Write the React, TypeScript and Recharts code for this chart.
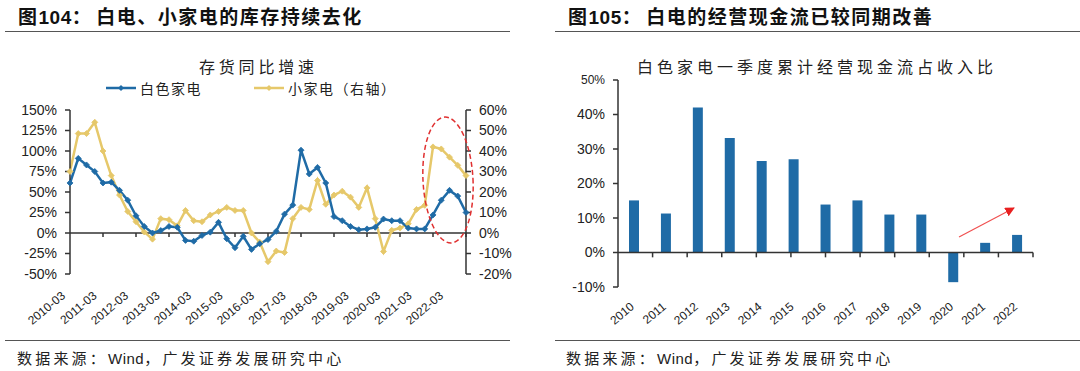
import React from 'react';
import { Bar, BarChart, Line, LineChart, ReferenceLine, XAxis, YAxis } from 'recharts';

// 季度 (2010-03 ~ 2022-03)
const QUARTERS = [
  '2010-03', '2010-06', '2010-09', '2010-12', '2011-03', '2011-06', '2011-09', '2011-12',
  '2012-03', '2012-06', '2012-09', '2012-12', '2013-03', '2013-06', '2013-09', '2013-12',
  '2014-03', '2014-06', '2014-09', '2014-12', '2015-03', '2015-06', '2015-09', '2015-12',
  '2016-03', '2016-06', '2016-09', '2016-12', '2017-03', '2017-06', '2017-09', '2017-12',
  '2018-03', '2018-06', '2018-09', '2018-12', '2019-03', '2019-06', '2019-09', '2019-12',
  '2020-03', '2020-06', '2020-09', '2020-12', '2021-03', '2021-06', '2021-09', '2021-12',
  '2022-03',
];

// 白色家电 存货同比 (%, 左轴)
const WHITE_GOODS = [
  61, 91, 83, 75, 61, 62, 52, 40, 21, 8, 0, 3, 8, 7, -9, -10, -3, 1, 13, -7, -18, -4, -20, -13,
  -8, 2, 23, 34, 101, 72, 80, 61, 20, 15, 8, 4, 5, 7, 17, 15, 15, 6, 5, 5, 22, 40, 52, 45, 25,
];

// 小家电 存货同比 (%, 右轴)
const SMALL_APPLIANCES = [
  30, 48.5, 48.5, 54, 40, 28, 18.5, 10.5, 5.5, 0.5, -3, 7, 6.5, 3.5, 11, 6, 5.5, 8.8, 10.5, 12.5,
  11, 11, 0, -4.5, -14, -8.8, -9.5, 7, 12.5, 11.5, 25.6, 14, 18.5, 20.4, 17.5, 12.5, 22, 7, -9,
  1.3, 2.4, 4.5, 11.5, 13.5, 42, 41, 37, 33, 28,
];

const LEFT_TICKS = [-50, -25, 0, 25, 50, 75, 100, 125, 150];
const RIGHT_TICKS = [-20, -10, 0, 10, 20, 30, 40, 50, 60];

// 一季度累计经营现金流占收入比
const YEARS = ['2010', '2011', '2012', '2013', '2014', '2015', '2016', '2017', '2018', '2019', '2020', '2021', '2022'];
const CASH_FLOW_RATIO = [15.1, 11.3, 42, 33.2, 26.5, 27, 13.9, 15.1, 11, 11, -8.6, 2.8, 5.1];
const BAR_TICKS = [-10, 0, 10, 20, 30, 40, 50];

const BLUE = '#1f6ba6';
const YELLOW = '#e6c86a';
const AXIS = '#333';
const LATIN = '"Liberation Sans", Arial, "Noto Sans CJK SC", sans-serif';
const CJK = '"Noto Sans CJK SC", "Liberation Sans", sans-serif';

const lineData = QUARTERS.map((q, i) => ({ q, white: WHITE_GOODS[i], small: SMALL_APPLIANCES[i] }));
const barData = YEARS.map((year, i) => ({ year, value: CASH_FLOW_RATIO[i] }));
const yearStarts = QUARTERS.filter((q, i) => i > 0 && q.endsWith('-03'));
// 柱状图类目分界 (1..13)
const barEdges = YEARS.map((_, i) => i + 1);

const pct = (v: number) => `${v}%`;

function diamondDot(color: string) {
  return (props: any) => {
    const { cx, cy, index } = props;
    if (cx == null || cy == null) return <g key={index} />;
    const r = 3;
    return (
      <path
        key={index}
        d={`M${cx},${cy - r}L${cx + r},${cy}L${cx},${cy + r}L${cx - r},${cy}Z`}
        fill={color}
        stroke={color}
        strokeWidth={0.8}
      />
    );
  };
}

function QuarterTick({ x, y, payload }: any) {
  const k = QUARTERS.indexOf(payload.value) / 4;
  const ax = x - 4 - 1.5 * k;
  const ay = y + 15;
  return (
    <text x={ax} y={ay} transform={`rotate(-40 ${ax} ${ay})`} textAnchor="end" fontSize={12} fill="#222" fontFamily={LATIN}>
      {payload.value}
    </text>
  );
}

function YearTick({ x, y, payload }: any) {
  const ax = x + 1;
  const ay = y + 13;
  return (
    <text x={ax} y={ay} transform={`rotate(-40 ${ax} ${ay})`} textAnchor="end" fontSize={12} fill="#222" fontFamily={LATIN}>
      {payload.value}
    </text>
  );
}

function BarYTick({ x, y, payload }: any) {
  return (
    <text x={x} y={y} dy="0.355em" textAnchor="end" fontSize={payload.value === 50 ? 12 : 14} fill="#222" fontFamily={LATIN}>
      {pct(payload.value)}
    </text>
  );
}

function LegendItem({ color, label }: { color: string; label: string }) {
  return (
    <span style={{ display: 'inline-flex', alignItems: 'center', gap: 4 }}>
      <svg width={30} height={8}>
        <line x1={0} y1={4} x2={30} y2={4} stroke={color} strokeWidth={2.5} />
        <path d="M15,1L18,4L15,7L12,4Z" fill={color} />
      </svg>
      <span>{label}</span>
    </span>
  );
}

function PanelTitle({ num, text, left }: { num: string; text: string; left: number }) {
  return (
    <div style={{ position: 'absolute', left, top: 2, fontFamily: CJK, fontSize: 19, fontWeight: 700, color: '#111', letterSpacing: 1.5, whiteSpace: 'nowrap' }}>
      <span>图</span>
      <span style={{ fontFamily: LATIN, letterSpacing: 0.5 }}>{num}</span>
      <span>：</span>
      <span style={{ marginLeft: 4 }}>{text}</span>
    </div>
  );
}

export default function App() {
  const rule = (left: number, width: number, top: number) => (
    <div style={{ position: 'absolute', left, top, width, height: 1, background: '#555' }} />
  );
  const source = (left: number) => (
    <div style={{ position: 'absolute', left, top: 347, fontFamily: CJK, fontSize: 15, color: '#222', letterSpacing: 3.2, whiteSpace: 'nowrap' }}>
      数据来源：<span style={{ fontFamily: LATIN, letterSpacing: 0.5 }}>Wind</span>，广发证券发展研究中心
    </div>
  );

  return (
    <div style={{ position: 'absolute', left: 0, top: 0, width: 1080, height: 371, background: '#fff', overflow: 'hidden' }}>
      <PanelTitle num="104" text="白电、小家电的库存持续去化" left={18} />
      <PanelTitle num="105" text="白电的经营现金流已较同期改善" left={568} />
      {rule(5, 505, 31)}
      {rule(555, 525, 31)}

      <div style={{ position: 'absolute', left: 199, top: 54, fontFamily: CJK, fontSize: 16, letterSpacing: 3.8, color: '#222', whiteSpace: 'nowrap' }}>
        存货同比增速
      </div>
      <div style={{ position: 'absolute', left: 106, top: 78, fontFamily: CJK, fontSize: 14, letterSpacing: 1.5, color: '#222', display: 'flex', gap: 52, whiteSpace: 'nowrap' }}>
        <LegendItem color={BLUE} label="白色家电" />
        <LegendItem color={YELLOW} label="小家电（右轴）" />
      </div>

      <div style={{ position: 'absolute', left: 637, top: 54, fontFamily: CJK, fontSize: 16, letterSpacing: 4, color: '#222', whiteSpace: 'nowrap' }}>
        白色家电一季度累计经营现金流占收入比
      </div>

      <div style={{ position: 'absolute', left: 0, top: 0 }}>
        <LineChart width={540} height={340} data={lineData} margin={{ top: 110, right: 14, bottom: 6, left: 10 }}>
          <XAxis dataKey="q" interval={3} axisLine={false} tickLine={false} height={60} tick={<QuarterTick />} />
          <YAxis
            yAxisId="left"
            domain={[-50, 150]}
            ticks={LEFT_TICKS}
            interval={0}
            tickFormatter={pct}
            width={60}
            tickSize={5}
            tickMargin={8}
            stroke={AXIS}
            strokeWidth={1.5}
            tick={{ fontSize: 14, fill: '#222', fontFamily: LATIN }}
          />
          <YAxis
            yAxisId="right"
            orientation="right"
            domain={[-20, 60]}
            ticks={RIGHT_TICKS}
            interval={0}
            tickFormatter={pct}
            width={60}
            tickSize={5}
            tickMargin={8}
            stroke={AXIS}
            strokeWidth={1.5}
            tick={{ fontSize: 14, fill: '#222', fontFamily: LATIN }}
          />
          <ReferenceLine yAxisId="left" y={0} stroke={AXIS} strokeWidth={1.5} />
          {yearStarts.map((q) => (
            <ReferenceLine
              key={q}
              yAxisId="left"
              segment={[{ x: q, y: 0 }, { x: q, y: -5 }]}
              stroke={AXIS}
              strokeWidth={1.5}
            />
          ))}
          <Line
            yAxisId="right"
            dataKey="small"
            stroke={YELLOW}
            strokeWidth={2.5}
            dot={diamondDot(YELLOW)}
            isAnimationActive={false}
          />
          <Line
            yAxisId="left"
            dataKey="white"
            stroke={BLUE}
            strokeWidth={2.5}
            dot={diamondDot(BLUE)}
            isAnimationActive={false}
          />
        </LineChart>
      </div>

      <div style={{ position: 'absolute', left: 540, top: 0 }}>
        <BarChart width={540} height={340} data={barData} margin={{ top: 80, right: 47, bottom: 8, left: 18 }}>
          <XAxis dataKey="year" axisLine={false} tickLine={false} height={45} interval={0} tick={<YearTick />} />
          <XAxis xAxisId="edge" type="number" domain={[0, YEARS.length]} hide />
          <YAxis
            domain={[-10, 50]}
            ticks={BAR_TICKS}
            interval={0}
            width={60}
            tickSize={5}
            tickMargin={8}
            stroke={AXIS}
            strokeWidth={1.5}
            tick={<BarYTick />}
          />
          <ReferenceLine y={0} stroke={AXIS} strokeWidth={1.5} />
          {barEdges.map((e) => (
            <ReferenceLine
              key={e}
              xAxisId="edge"
              segment={[{ x: e, y: 0 }, { x: e, y: -1.4 }]}
              stroke={AXIS}
              strokeWidth={1.5}
            />
          ))}
          <Bar dataKey="value" fill={BLUE} barSize={10} isAnimationActive={false} />
        </BarChart>
      </div>

      <svg width={1080} height={371} style={{ position: 'absolute', left: 0, top: 0, pointerEvents: 'none' }}>
        <defs>
          <marker id="arrowHead" viewBox="0 0 10 10" refX="9" refY="5" markerWidth="8" markerHeight="8" orient="auto">
            <path d="M0,0L10,5L0,10Z" fill="#e82020" />
          </marker>
        </defs>
        <ellipse cx={448} cy={180} rx={25} ry={63} fill="none" stroke="#e03030" strokeWidth={1.5} strokeDasharray="5 3" transform="rotate(-3 448 180)" />
        <line x1={959} y1={237} x2={1014} y2={208} stroke="#f05050" strokeWidth={1.2} markerEnd="url(#arrowHead)" />
      </svg>

      {rule(5, 505, 340)}
      {rule(555, 525, 340)}
      {source(17)}
      {source(566)}
    </div>
  );
}
